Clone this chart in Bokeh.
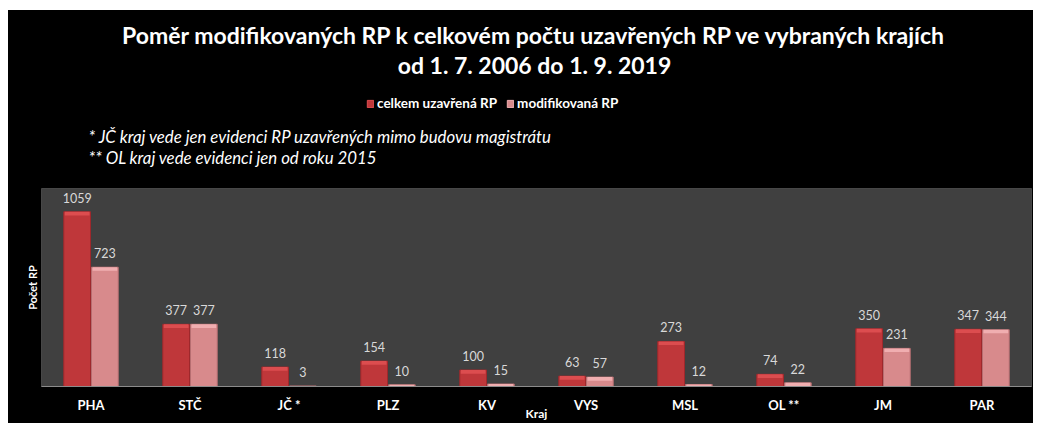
from bokeh.plotting import figure
from bokeh.layouts import column, row
from bokeh.models import (ColumnDataSource, FactorRange, Range1d, Label, Legend,
                          LegendItem, FixedTicker, Spacer)
from bokeh.transform import dodge
from bokeh.core.properties import value
from bokeh.embed import file_html
from bokeh.resources import INLINE

regions = ["PHA", "STČ", "JČ *", "PLZ", "KV", "VYS", "MSL", "OL **", "JM", "PAR"]
celkem = [1059, 377, 118, 154, 100, 63, 273, 74, 350, 347]
modif = [723, 377, 3, 10, 15, 57, 12, 22, 231, 344]

series_names = ["celkem uzavřená RP", "modifikovaná RP"]
title1 = "Poměr modifikovaných RP k celkovém počtu uzavřených RP ve vybraných krajích"
title2 = "od 1. 7. 2006 do 1. 9. 2019"
note1 = "* JČ kraj vede jen evidenci RP uzavřených mimo budovu magistrátu"
note2 = "** OL kraj vede evidenci jen od roku 2015"
x_title = "Kraj"
y_title = "Počet RP"

FONT = "Lato"
HL = 22  # highlight strip depth in data units
C1, C1_EDGE, C1_HL = "#bf373a", "#9e282c", "#dc4d4f"
C2, C2_EDGE, C2_HL = "#d88a8c", "#b86f72", "#f0aeb0"

W = 1025
H_TOP = 174
H_MAIN = 239

# ---------------- header figure (titles, legend, notes) ----------------
top = figure(width=W, height=H_TOP, x_range=Range1d(0, 1), y_range=Range1d(0, 1),
             output_backend="svg", toolbar_location=None,
             min_border=0, min_border_left=33, min_border_right=2,
             min_border_top=0, min_border_bottom=0,
             x_axis_location=None, y_axis_location=None)
top.border_fill_color = "black"
top.background_fill_color = "black"
top.outline_line_color = "black"
top.outline_line_width = 3
top.grid.visible = False

for txt, y in [(title1, 150), (title2, 120)]:
    top.add_layout(Label(x=493, y=y, x_units="screen", y_units="screen", text=txt,
                         text_align="center", text_baseline="middle", text_font=FONT,
                         text_font_size="23px", text_font_style="bold",
                         text_color="white"))
for txt, y in [(note1, 48), (note2, 27)]:
    top.add_layout(Label(x=47, y=y, x_units="screen", y_units="screen", text=txt,
                         text_align="left", text_baseline="middle", text_font=FONT,
                         text_font_size="16.8px", text_font_style="italic",
                         text_color="white"))

# legend swatch renderers (one zero-height bar outside the header's view)
swatch = ColumnDataSource(dict(x=[-5], top=[0]))
d1 = top.vbar(x="x", top="top", width=0.1, source=swatch,
              fill_color=C1, line_color=C1_HL)
d2 = top.vbar(x="x", top="top", width=0.1, source=swatch,
              fill_color=C2, line_color=C2_HL)
legend = Legend(items=[LegendItem(label=series_names[0], renderers=[d1]),
                       LegendItem(label=series_names[1], renderers=[d2])],
                orientation="horizontal", location=(325, 73))
legend.background_fill_alpha = 0
legend.border_line_color = None
legend.padding = 0
legend.margin = 0
legend.spacing = 9
legend.label_standoff = 3
legend.glyph_width = 8
legend.glyph_height = 9
legend.label_height = 12
legend.label_text_font = FONT
legend.label_text_font_style = "bold"
legend.label_text_font_size = "13.5px"
legend.label_text_color = "white"
top.add_layout(legend, "center")

# ---------------- main chart ----------------
src = ColumnDataSource(dict(
    region=regions,
    celkem=celkem,
    modif=modif,
    celkem_hl=[max(v - HL, 0) for v in celkem],
    modif_hl=[max(v - HL, 0) for v in modif],
    celkem_lbl=[str(v) for v in celkem],
    modif_lbl=[str(v) for v in modif],
))

p = figure(width=W, height=H_MAIN, x_range=FactorRange(*regions),
           y_range=Range1d(0, 1200), output_backend="svg", toolbar_location=None,
           min_border_left=33, min_border_right=2, min_border_top=4,
           min_border_bottom=37)
p.border_fill_color = "black"
p.background_fill_color = "#404040"
p.outline_line_color = "#474747"
p.xgrid.visible = False
p.ygrid.visible = False
p.x_range.range_padding = 0

off = 0.14
w = 0.27
p.vbar(x=dodge("region", -off, range=p.x_range), top="celkem", width=w, source=src,
       fill_color=C1, line_color=C1_EDGE, line_width=1)
p.vbar(x=dodge("region", -off, range=p.x_range), top="celkem", bottom="celkem_hl",
       width=w - 0.02, source=src, fill_color=C1_HL, line_color=None)
p.vbar(x=dodge("region", off, range=p.x_range), top="modif", width=w, source=src,
       fill_color=C2, line_color=C2_EDGE, line_width=1)
p.vbar(x=dodge("region", off, range=p.x_range), top="modif", bottom="modif_hl",
       width=w - 0.02, source=src, fill_color=C2_HL, line_color=None)

p.text(x=dodge("region", -off, range=p.x_range), y="celkem", text="celkem_lbl", source=src,
       text_align="center", text_baseline="middle", y_offset=-14,
       text_font=value(FONT), text_font_size="12.5px", text_color="#d9d9d9")
p.text(x=dodge("region", off, range=p.x_range), y="modif", text="modif_lbl", source=src,
       text_align="center", text_baseline="middle", y_offset=-14,
       text_font=value(FONT), text_font_size="12.5px", text_color="#d9d9d9")

p.xaxis.axis_line_color = "#8c8c8c"
p.xaxis.major_tick_line_color = None
p.xaxis.minor_tick_line_color = None
p.xaxis.major_tick_in = 0
p.xaxis.major_tick_out = 0
p.xaxis.major_label_standoff = 10
p.xaxis.major_label_text_font = FONT
p.xaxis.major_label_text_font_style = "bold"
p.xaxis.major_label_text_font_size = "13px"
p.xaxis.major_label_text_color = "white"
p.xaxis.axis_label = x_title
p.xaxis.axis_label_text_font = FONT
p.xaxis.axis_label_text_font_style = "bold"
p.xaxis.axis_label_text_font_size = "12px"
p.xaxis.axis_label_text_color = "white"
p.xaxis.axis_label_standoff = -10

p.yaxis.ticker = FixedTicker(ticks=[])
p.yaxis.axis_line_color = None
p.yaxis.major_tick_line_color = None
p.yaxis.minor_tick_line_color = None
p.yaxis.major_label_text_font_size = "0px"
p.yaxis.axis_label = y_title
p.yaxis.axis_label_text_font = FONT
p.yaxis.axis_label_text_font_style = "bold"
p.yaxis.axis_label_text_font_size = "11px"
p.yaxis.axis_label_text_color = "white"
p.yaxis.axis_label_standoff = 3

charts = column(top, p, spacing=0, styles={"background-color": "black"})
layout = column(Spacer(height=10), row(Spacer(width=8), charts, spacing=0), spacing=0)
open("out.html", "w").write(file_html(layout, INLINE))
